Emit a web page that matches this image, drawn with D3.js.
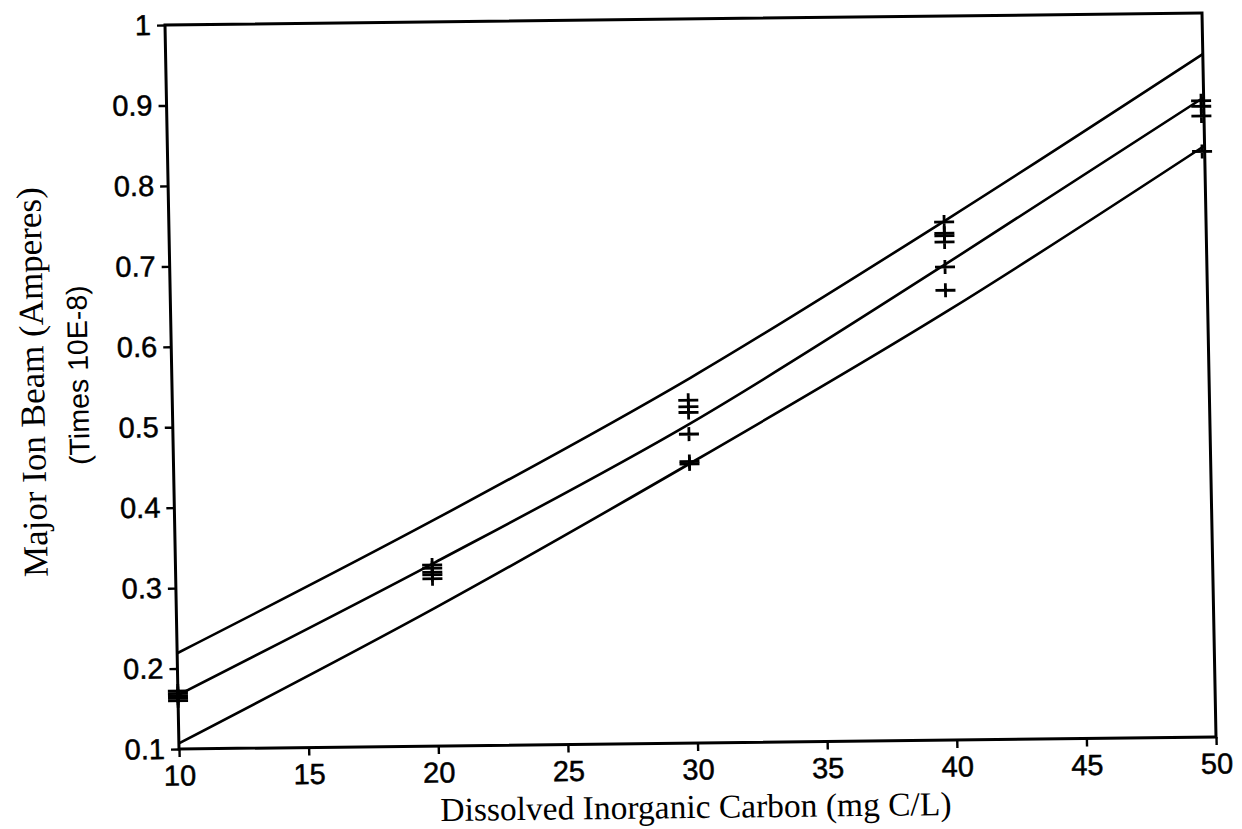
<!DOCTYPE html>
<html lang="en">
  <head>
    <meta charset="utf-8">
    <title>Major Ion Beam vs Dissolved Inorganic Carbon</title>
    <script src="https://cdn.jsdelivr.net/npm/d3@7"></script>
    <style>
      body { margin: 0; background: #fff; }
      .tick text { font-family: "Liberation Sans", Arial, sans-serif; font-size: 29px; fill: #000; stroke: #000; stroke-width: 0.5px; }
    </style>
  </head>
  <body>
    <svg id="svg"></svg>
    <script type="text/javascript">

        // -- curve values (x = mg C/L)
        var curveX      = [10, 20, 30, 40, 50];
        var upperBand   = [0.219, 0.381, 0.554, 0.747, 0.949];
        var fitLine     = [0.167, 0.328, 0.498, 0.693, 0.895];
        var lowerBand   = [0.107, 0.272, 0.449, 0.634, 0.835];

        // -- measured points ("+" markers)
        var pointX = [10, 10, 10, 10, 10,
                      19.9, 19.9, 19.9, 19.9, 19.9,
                      29.9, 29.9, 29.9, 29.9, 29.9, 29.9,
                      39.9, 39.9, 39.9, 39.9, 39.9, 39.9,
                      49.9, 49.9, 49.9, 49.9];
        var pointY = [0.160, 0.163, 0.166, 0.169, 0.172,
                      0.325, 0.321, 0.316, 0.313, 0.308,
                      0.526, 0.518, 0.511, 0.484, 0.450, 0.447,
                      0.744, 0.730, 0.727, 0.719, 0.688, 0.659,
                      0.891, 0.884, 0.872, 0.828];

        var xTicks = [10, 15, 20, 25, 30, 35, 40, 45, 50];
        var yTicks = [0.1, 0.2, 0.3, 0.4, 0.5, 0.6, 0.7, 0.8, 0.9, 1];

        var W = 1037, H = 724;

        var svg = d3.select("svg#svg")
            .attr("width", 1242)
            .attr("height", 829)
            .style("background-color", "#fff");

        // - the scan is a little skewed, so the plot sits in a sheared group
        var g = svg.append("g")
            .attr("transform", "matrix(1,-0.01157,0.01934,1,165,25)");

        var x = d3.scaleLinear().domain([10, 50]).range([0, W]);
        var y = d3.scaleLinear().domain([0.1, 1]).range([H, 0]);

        var xAxis = d3.axisBottom(x)
            .tickValues(xTicks)
            .tickSize(8).tickSizeOuter(0).tickPadding(8)
            .tickFormat(d3.format("d"));
        var yAxis = d3.axisLeft(y)
            .tickValues(yTicks)
            .tickSize(8).tickSizeOuter(0).tickPadding(6)
            .tickFormat(function(d) { return d === 1 ? "1" : d3.format(".1f")(d); });

        var gx = g.append("g").attr("transform", "translate(0," + H + ")").call(xAxis);
        var gy = g.append("g").call(yAxis);
        [gx, gy].forEach(function(a) {
            a.select(".domain").remove();
            a.selectAll(".tick line").attr("stroke", "#000").attr("stroke-width", 2.4);
        });

        // - frame
        g.append("rect")
            .attr("x", 0).attr("y", 0)
            .attr("width", W).attr("height", H)
            .attr("fill", "none")
            .attr("stroke", "#000")
            .attr("stroke-width", 3);

        // - curves
        var line = d3.line()
            .x(function(d) { return x(d[0]); })
            .y(function(d) { return y(d[1]); })
            .curve(d3.curveMonotoneX);

        [upperBand, fitLine, lowerBand].forEach(function(vals) {
            g.append("path")
                .datum(curveX.map(function(cx, i) { return [cx, vals[i]]; }))
                .attr("d", line)
                .attr("fill", "none")
                .attr("stroke", "#000")
                .attr("stroke-width", 2.6);
        });

        // - data points
        g.selectAll("path.pt")
            .data(pointX.map(function(px, i) { return [px, pointY[i]]; }))
            .enter().append("path")
            .attr("class", "pt")
            .attr("transform", function(d) { return "translate(" + x(d[0]) + "," + y(d[1]) + ")"; })
            .attr("d", "M-10,0H10M0,-7V7")
            .attr("fill", "none")
            .attr("stroke", "#000")
            .attr("stroke-width", 2.8);

        // - axis titles
        svg.append("text")
            .attr("transform", "translate(696,818) rotate(-0.66)")
            .attr("text-anchor", "middle")
            .style("font-family", "'Liberation Serif', 'Times New Roman', serif")
            .style("font-size", "33.5px")
            .text("Dissolved Inorganic Carbon (mg C/L)");

        svg.append("text")
            .attr("transform", "translate(44,382) rotate(-91.1)")
            .attr("text-anchor", "middle")
            .style("font-family", "'Liberation Serif', 'Times New Roman', serif")
            .style("font-size", "35px")
            .text("Major Ion Beam (Amperes)");

        svg.append("text")
            .attr("transform", "translate(88,375) rotate(-91.1)")
            .attr("text-anchor", "middle")
            .style("font-family", "'Liberation Sans', Arial, sans-serif")
            .style("font-size", "28.5px")
            .text("(Times 10E-8)");

    </script>
  </body>
</html>
